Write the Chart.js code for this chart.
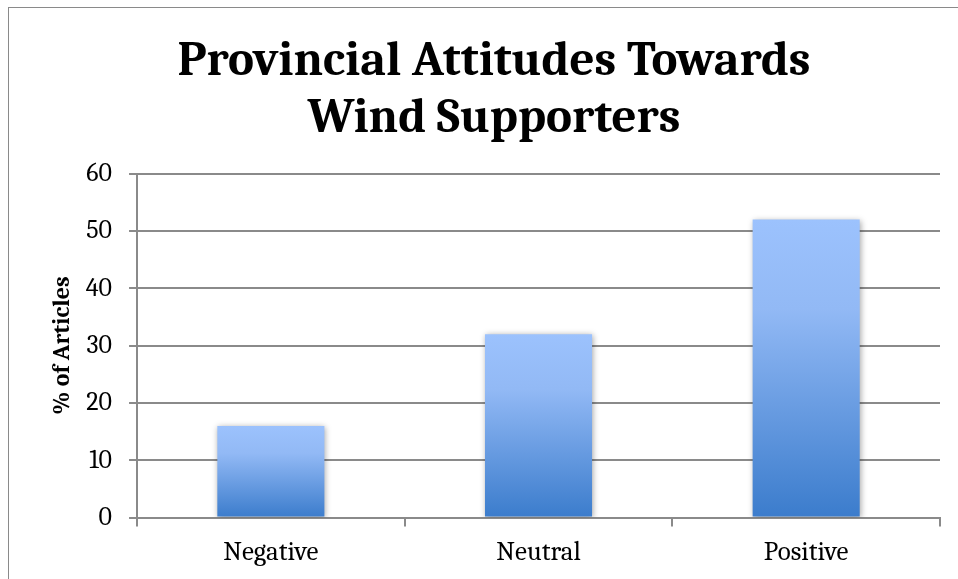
<!DOCTYPE html>
<html>
<head>
<meta charset="utf-8">
<script src="https://cdn.jsdelivr.net/npm/chart.js@4.4.1/dist/chart.umd.min.js"></script>
<style>
    html, body { margin: 0; padding: 0; background: #fff; }
    #wrap { position: relative; width: 958px; height: 579px; overflow: hidden; }
    #frame { position: absolute; left: 8px; top: 7px; width: 980px; height: 600px; border: 1px solid #8a8a8a; }
    canvas { position: absolute; left: 0; top: 0; }
</style>
</head>
<body>
<div id="wrap">
    <div id="frame"></div>
    <canvas id="windChart" width="958" height="579"></canvas>
</div>
<script>
// Datos del gráfico
const categories = ['Negative', 'Neutral', 'Positive'];
const percentArticles = [16, 32, 52];
const yTicks = [0, 10, 20, 30, 40, 50, 60];

const chartTitle = ['Provincial Attitudes Towards', 'Wind Supporters'];
const yTitle = '% of Articles';

// Degradado por barra (claro arriba, oscuro abajo)
function barGradient(context) {
    const chart = context.chart;
    const area = chart.chartArea;
    if (!area || !chart.scales.y) return '#6a9ee8';
    const value = context.parsed ? context.parsed.y : 0;
    const top = chart.scales.y.getPixelForValue(value);
    const bottom = chart.scales.y.getPixelForValue(0);
    const g = chart.ctx.createLinearGradient(0, top, 0, bottom);
    g.addColorStop(0, '#9cc2fd');
    g.addColorStop(0.3, '#92b9f5');
    g.addColorStop(1, '#3b7ccc');
    return g;
}

// Sombra suave de las barras
const barShadow = {
    id: 'barShadow',
    beforeDatasetsDraw(chart) {
        const ctx = chart.ctx;
        ctx.save();
        ctx.shadowColor = 'rgba(0,0,0,0.35)';
        ctx.shadowBlur = 6;
        ctx.shadowOffsetX = 1;
        ctx.shadowOffsetY = 1;
    },
    afterDatasetsDraw(chart) {
        chart.ctx.restore();
    }
};

const serif = 'Cambria, Caladea, "Liberation Serif", "DejaVu Serif", serif';

new Chart(document.getElementById('windChart'), {
    type: 'bar',
    data: {
        labels: categories,
        datasets: [{
            data: percentArticles,
            backgroundColor: barGradient,
            borderWidth: 0,
            barPercentage: 0.4,
            categoryPercentage: 1.0
        }]
    },
    options: {
        responsive: false,
        animation: false,
        layout: { padding: { left: 48, right: 18, top: 32, bottom: 0 } },
        plugins: {
            legend: { display: false },
            tooltip: { enabled: false },
            title: {
                display: true,
                text: chartTitle,
                color: '#000',
                font: { family: serif, size: 49, weight: 'bold', lineHeight: 1.17 },
                padding: { top: 0, bottom: 27 }
            }
        },
        scales: {
            x: {
                grid: {
                    offset: true,
                    drawOnChartArea: false,
                    color: '#8a8a8a',
                    lineWidth: 2,
                    tickLength: 9
                },
                border: { color: '#8a8a8a', width: 2 },
                ticks: {
                    color: '#000',
                    font: { family: serif, size: 27 },
                    padding: 10
                }
            },
            y: {
                min: 0,
                max: 60,
                afterBuildTicks(axis) {
                    axis.ticks = yTicks.map(v => ({ value: v }));
                },
                grid: {
                    color: '#8a8a8a',
                    lineWidth: 2,
                    tickLength: 8
                },
                border: { color: '#8a8a8a', width: 2 },
                ticks: {
                    color: '#000',
                    font: { family: serif, size: 26 },
                    padding: 17
                },
                title: {
                    display: true,
                    text: yTitle,
                    color: '#000',
                    font: { family: serif, size: 24, weight: 'bold' },
                    padding: { top: 0, bottom: -8 }
                }
            }
        }
    },
    plugins: [barShadow]
});
</script>
</body>
</html>
